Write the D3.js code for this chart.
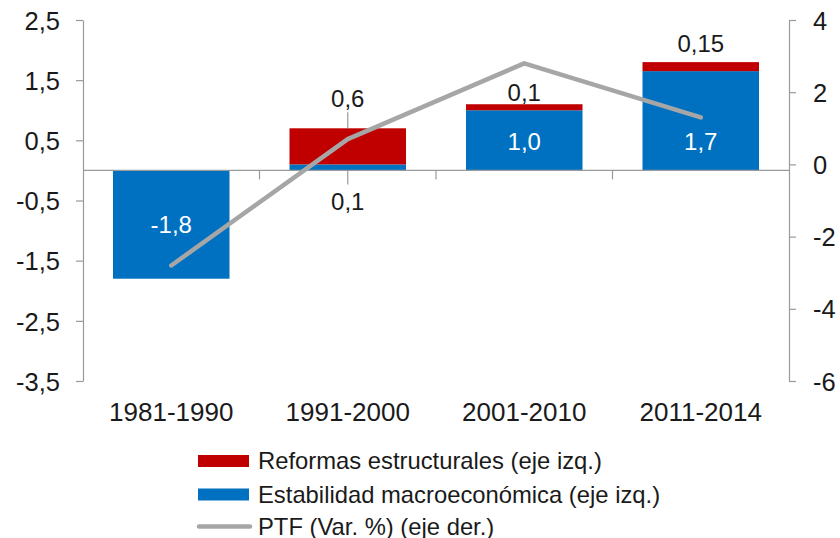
<!DOCTYPE html>
<html>
<head>
<meta charset="utf-8">
<script src="https://cdn.jsdelivr.net/npm/d3@7"></script>
<style>
  body { margin: 0; background: #fff; }
  text { font-family: "Liberation Sans", Arial, sans-serif; fill: #1a1a1a; }
</style>
</head>
<body>
<div id="chart"></div>
<script>
// datos
const categories = ["1981-1990", "1991-2000", "2001-2010", "2011-2014"];
const estabilidad = [-1.8, 0.1, 1.0, 1.65];
const reformas = [0, 0.6, 0.1, 0.15];
const ptf = [-2.8, 0.7, 2.8, 1.3];
const estabilidadLabels = ["-1,8", "0,1", "1,0", "1,7"];
const reformasLabels = [null, "0,6", "0,1", "0,15"];
const leftTicks = [2.5, 1.5, 0.5, -0.5, -1.5, -2.5, -3.5];
const rightTicks = [4, 2, 0, -2, -4, -6];
const legendItems = ["Reformas estructurales (eje izq.)", "Estabilidad macroeconómica (eje izq.)", "PTF (Var. %) (eje der.)"];

const width = 840, height = 538;
const plot = { left: 83, right: 789, top: 20, bottom: 381 };
const RED = "#c00000", BLUE = "#0070c0", GRAY = "#a6a6a6", AXIS = "#9a9a9a";

const locale = d3.formatLocale({ decimal: ",", thousands: ".", grouping: [3], currency: ["", "€"], minus: "-" });

const svg = d3.select("#chart").append("svg")
    .attr("width", width)
    .attr("height", height);

const x = d3.scaleBand().domain(categories).range([plot.left, plot.right]).paddingInner(0.34).paddingOuter(0.17);
const yL = d3.scaleLinear().domain([-3.5, 2.5]).range([plot.bottom, plot.top]);
const yR = d3.scaleLinear().domain([-6, 4]).range([plot.bottom, plot.top]);

// eje izquierdo
const axL = svg.append("g")
    .attr("transform", `translate(${plot.left},0)`)
    .call(d3.axisLeft(yL).tickValues(leftTicks).tickFormat(locale.format(".1f")).tickSize(7).tickSizeOuter(0).tickPadding(16));
axL.selectAll("text").style("font-size", "25.5px").attr("dy", "0.36em");

// eje derecho
const axR = svg.append("g")
    .attr("transform", `translate(${plot.right},0)`)
    .call(d3.axisRight(yR).tickValues(rightTicks).tickFormat(locale.format("d")).tickSize(7).tickSizeOuter(0).tickPadding(17));
axR.selectAll("text").style("font-size", "25.5px").attr("dy", "0.36em");

svg.selectAll("g").attr("font-family", null).attr("font-size", null);
svg.selectAll(".domain, .tick line").attr("stroke", AXIS).attr("stroke-width", 1.2);

// barras
const idx = d3.range(categories.length);
svg.selectAll(".blue").data(idx).enter().append("rect")
    .attr("x", i => x(categories[i]))
    .attr("width", x.bandwidth())
    .attr("y", i => yL(Math.max(0, estabilidad[i])))
    .attr("height", i => Math.abs(yL(estabilidad[i]) - yL(0)))
    .attr("fill", BLUE);

svg.selectAll(".red").data(idx.filter(i => reformas[i] > 0)).enter().append("rect")
    .attr("x", i => x(categories[i]))
    .attr("width", x.bandwidth())
    .attr("y", i => yL(Math.max(0, estabilidad[i]) + reformas[i]))
    .attr("height", i => yL(Math.max(0, estabilidad[i])) - yL(Math.max(0, estabilidad[i]) + reformas[i]))
    .attr("fill", RED);

// eje de categorías
svg.append("line")
    .attr("x1", plot.left).attr("x2", plot.right)
    .attr("y1", yL(0)).attr("y2", yL(0))
    .attr("stroke", AXIS).attr("stroke-width", 1.2);
svg.selectAll(".ctick").data(categories.slice(1)).enter().append("line")
    .attr("x1", d => x(d) - x.step() * x.paddingInner() / 2)
    .attr("x2", d => x(d) - x.step() * x.paddingInner() / 2)
    .attr("y1", yL(0)).attr("y2", yL(0) + 9)
    .attr("stroke", AXIS).attr("stroke-width", 1.2);
svg.selectAll(".clabel").data(categories).enter().append("text")
    .attr("x", d => x(d) + x.bandwidth() / 2)
    .attr("y", 421)
    .attr("text-anchor", "middle")
    .style("font-size", "26px")
    .text(d => d);

// línea PTF
const cx = i => x(categories[i]) + x.bandwidth() / 2;
svg.append("path")
    .datum(idx)
    .attr("d", d3.line().x(cx).y(i => yR(ptf[i])))
    .attr("fill", "none")
    .attr("stroke", GRAY)
    .attr("stroke-width", 4.5)
    .attr("stroke-linecap", "round")
    .attr("stroke-linejoin", "round");

// etiquetas de datos
const redLabelGap = [0, 21, 3, 10];
const blueLabelShift = [0, 0, 2, 21];
idx.forEach(i => {
    const cxi = cx(i);
    if (reformasLabels[i]) {
        const topY = yL(Math.max(0, estabilidad[i]) + reformas[i]);
        const base = topY - redLabelGap[i];
        if (redLabelGap[i] > 15) {
            svg.append("line").attr("x1", cxi).attr("x2", cxi)
                .attr("y1", base + 5).attr("y2", topY)
                .attr("stroke", AXIS).attr("stroke-width", 1.2);
        }
        svg.append("text").attr("x", cxi).attr("y", base)
            .attr("text-anchor", "middle").style("font-size", "24px")
            .text(reformasLabels[i]);
    }
    if (Math.abs(estabilidad[i]) < 0.5) {
        // etiqueta fuera de la barra
        svg.append("line").attr("x1", cxi).attr("x2", cxi)
            .attr("y1", yL(0)).attr("y2", yL(0) + 14)
            .attr("stroke", AXIS).attr("stroke-width", 1.2);
        svg.append("text").attr("x", cxi).attr("y", yL(0) + 40)
            .attr("text-anchor", "middle").style("font-size", "24px")
            .text(estabilidadLabels[i]);
    } else {
        svg.append("text").attr("x", cxi)
            .attr("y", yL(estabilidad[i] / 2) + blueLabelShift[i] + 8)
            .attr("text-anchor", "middle").style("font-size", "24px")
            .style("fill", "#fff")
            .text(estabilidadLabels[i]);
    }
});

// leyenda
const legend = svg.append("g");
const rows = [461, 494.5, 526.5];
legend.append("rect").attr("x", 198).attr("y", rows[0] - 6).attr("width", 51).attr("height", 12).attr("fill", RED);
legend.append("rect").attr("x", 198).attr("y", rows[1] - 6).attr("width", 51).attr("height", 12).attr("fill", BLUE);
legend.append("line").attr("x1", 199).attr("x2", 250).attr("y1", rows[2]).attr("y2", rows[2])
    .attr("stroke", GRAY).attr("stroke-width", 4.5).attr("stroke-linecap", "round");
legend.selectAll("text").data(legendItems).enter().append("text")
    .attr("x", 258)
    .attr("y", (d, i) => rows[i] + 8)
    .style("font-size", "23.8px")
    .text(d => d);
</script>
</body>
</html>
